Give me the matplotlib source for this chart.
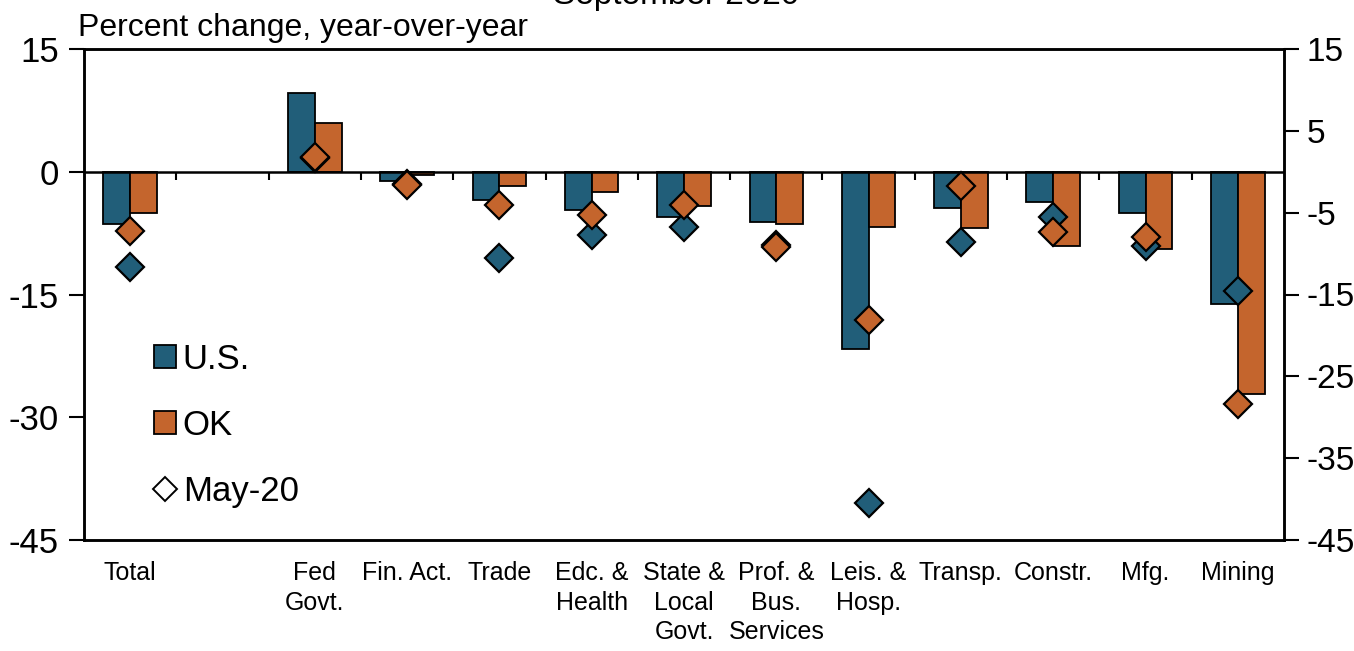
#!/usr/bin/env python3
"""Employment change by sector, U.S. vs OK, with May-20 markers."""

import matplotlib
matplotlib.use("Agg")
import matplotlib.pyplot as plt
from matplotlib.lines import Line2D
from matplotlib.patches import Patch
import numpy as np

plt.rcParams["font.family"] = ["Liberation Sans Narrow", "Liberation Sans", "DejaVu Sans"]
plt.rcParams["axes.unicode_minus"] = False

categories = ["Total", "", "Fed\nGovt.", "Fin. Act.", "Trade", "Edc. &\nHealth",
              "State &\nLocal\nGovt.", "Prof. &\nBus.\nServices", "Leis. &\nHosp.",
              "Transp.", "Constr.", "Mfg.", "Mining"]
us_sep = [-6.4, np.nan, 9.6, -1.1, -3.4, -4.7, -5.5, -6.2, -21.7, -4.4, -3.7, -5.1, -16.1]
ok_sep = [-5.1, np.nan, 6.0, -0.4, -1.8, -2.5, -4.2, -6.4, -6.7, -6.9, -9.1, -9.5, -27.1]
us_may = [-11.7, np.nan, 1.7, -1.5, -10.5, -7.7, -6.8, -8.9, -40.5, -8.6, -5.5, -9.1, -14.6]
ok_may = [-7.3, np.nan, 1.8, -1.6, -4.1, -5.3, -4.1, -9.2, -18.1, -1.8, -7.4, -8.0, -28.4]

US_COLOR = "#215E79"
OK_COLOR = "#C4652D"


def main() -> None:
    fig = plt.figure(figsize=(13.54, 6.51), dpi=100)
    ax = fig.add_axes([84 / 1354, 111 / 651, 1200 / 1354, 491 / 651])

    x = np.arange(len(categories))
    w = 0.29
    ax.bar(x - w / 2, us_sep, width=w, color=US_COLOR, edgecolor="black", linewidth=1.3, zorder=2)
    ax.bar(x + w / 2, ok_sep, width=w, color=OK_COLOR, edgecolor="black", linewidth=1.3, zorder=2)
    ax.plot(x, us_may, linestyle="none", marker="D", markersize=14, markerfacecolor=US_COLOR,
            markeredgecolor="black", markeredgewidth=1.6, zorder=4)
    ax.plot(x, ok_may, linestyle="none", marker="D", markersize=14, markerfacecolor=OK_COLOR,
            markeredgecolor="black", markeredgewidth=1.6, zorder=5)

    # zero line with separators between categories
    ax.axhline(0, color="black", linewidth=1.8, zorder=3)
    ax.vlines(x[:-1] + 0.5, -1.0, 0, color="black", linewidth=1.5, zorder=3)

    ax.set_xlim(-0.5, len(categories) - 0.5)
    ax.set_ylim(-45, 15)
    ax.set_yticks([15, 0, -15, -30, -45])
    ax.set_xticks(x)
    ax.set_xticklabels(categories, fontsize=18, linespacing=1.3)
    ax.tick_params(axis="x", length=0, pad=15)
    ax.tick_params(axis="y", direction="out", length=11, width=1.5, labelsize=25, pad=7)

    ax2 = ax.twinx()
    ax2.set_ylim(-45, 15)
    ax2.set_yticks([15, 5, -5, -15, -25, -35, -45])
    ax2.tick_params(axis="y", direction="out", length=11, width=1.5, labelsize=24, pad=5)

    for a in (ax, ax2):
        for s in a.spines.values():
            s.set_linewidth(1.8)

    handles = [
        Patch(facecolor=US_COLOR, edgecolor="black", linewidth=1.3, label="U.S."),
        Patch(facecolor=OK_COLOR, edgecolor="black", linewidth=1.3, label="OK"),
        Line2D([], [], linestyle="none", marker="D", markersize=12, markerfacecolor="white",
               markeredgecolor="black", markeredgewidth=1.4, label="May-20"),
    ]
    ax.legend(handles=handles, loc="upper left", bbox_to_anchor=(0.047, 0.43), frameon=False,
              fontsize=25, handlelength=0.62, handleheight=0.62, handletextpad=0.2,
              labelspacing=0.95, borderaxespad=0)

    fig.text(78 / 1354, 1 - 36 / 651, "Percent change, year-over-year", fontsize=23,
             ha="left", va="baseline")
    # title sits mostly above the top edge, as in the source image
    fig.text(676 / 1354, 1 - 4 / 651, "September 2020", fontsize=24, ha="center", va="baseline")

    fig.savefig("out.png", dpi=100)
    plt.close(fig)


if __name__ == "__main__":
    main()
